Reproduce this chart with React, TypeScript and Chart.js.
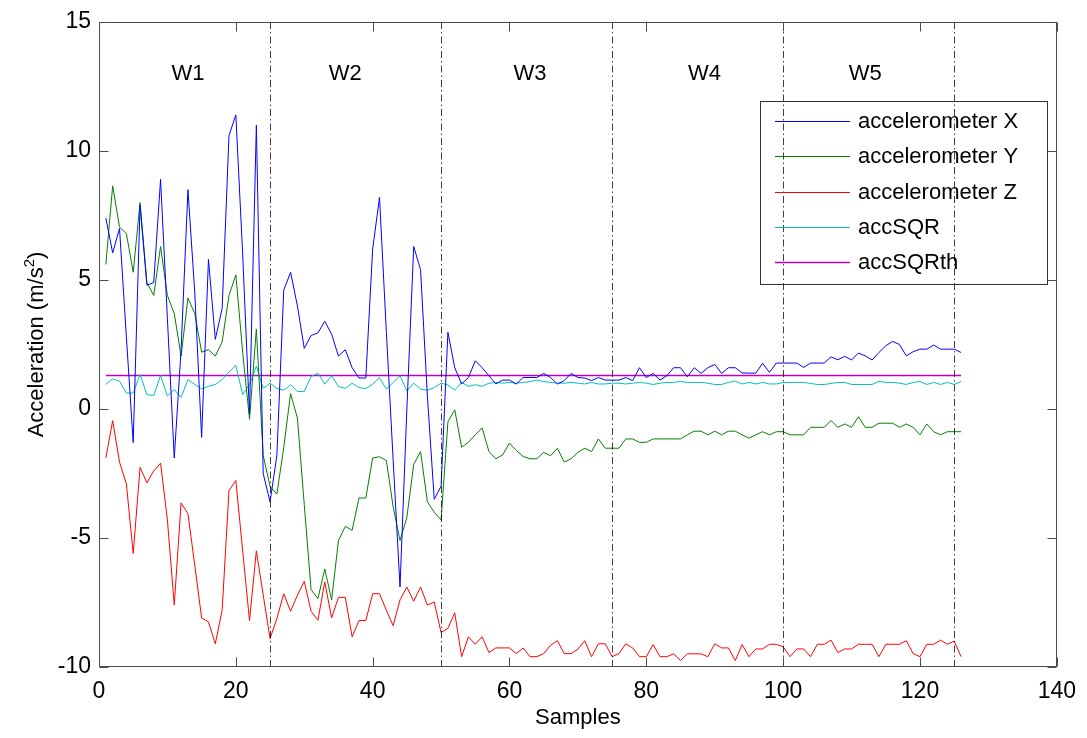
import React, { useEffect, useRef } from "react";
import { Chart, registerables } from "chart.js";

Chart.register(...registerables);

// ---------- data ----------
const sampleCount = 126;
const samples: number[] = Array.from({ length: sampleCount }, (_, i) => i + 1);

const accX: number[] = [
  7.4, 6.05, 7.0, 2.8, -1.3, 7.9, 4.8, 4.9, 8.9, 3.5,
  -1.9, 2.3, 8.5, 4.5, -1.1, 5.8, 2.7, 3.9, 10.6, 11.4,
  6.0, -0.2, 11.0, -2.5, -3.6, -1.8, 4.6, 5.3, 4.0, 2.35,
  2.85, 2.95, 3.4, 2.9, 2.05, 2.3, 1.6, 1.2, 1.2, 6.2,
  8.2, 3.0, -2.0, -6.9, 0.0, 6.3, 5.4, 0.5, -3.5, -3.0,
  2.97, 1.6, 0.97, 1.22, 1.87, 1.6, 1.29, 0.97, 1.12, 1.12,
  0.97, 1.22, 1.22, 1.22, 1.38, 1.22, 0.97, 1.1, 1.38, 1.22,
  1.2, 1.1, 1.22, 1.12, 1.12, 1.12, 1.22, 1.1, 1.6, 1.22,
  1.38, 1.12, 1.29, 1.6, 1.6, 1.25, 1.6, 1.38, 1.6, 1.73,
  1.38, 1.6, 1.6, 1.4, 1.39, 1.39, 1.77, 1.42, 1.78, 1.78,
  1.78, 1.78, 1.61, 1.78, 1.78, 1.78, 2.02, 1.91, 2.04, 1.9,
  2.17, 2.06, 1.9, 2.19, 2.45, 2.62, 2.5, 2.06, 2.22, 2.32,
  2.32, 2.48, 2.32, 2.32, 2.32, 2.19,
];

const accY: number[] = [
  5.6, 8.65, 7.05, 6.8, 5.3, 8.0, 4.9, 4.4, 6.3, 4.4,
  3.7, 2.05, 4.3, 3.7, 2.2, 2.3, 2.05, 2.6, 4.4, 5.2,
  2.2, -0.4, 3.1, -1.8, -3.0, -3.3, -1.5, 0.6, -0.35, -3.7,
  -7.0, -7.35, -6.2, -7.4, -5.1, -4.55, -4.7, -3.45, -3.45, -1.9,
  -1.85, -2.0, -3.8, -5.1, -4.2, -2.15, -1.65, -3.6, -4.0, -4.3,
  -0.5, -0.03, -1.48, -1.29, -1.0, -0.73, -1.65, -1.93, -1.78, -1.32,
  -1.61, -1.84, -1.93, -1.93, -1.68, -1.81, -1.52, -2.06, -1.93, -1.68,
  -1.52, -1.65, -1.16, -1.52, -1.52, -1.52, -1.16, -1.16, -1.29, -1.29,
  -1.16, -1.16, -1.16, -1.16, -1.16, -1.0, -0.86, -0.86, -1.0, -0.86,
  -1.0, -0.86, -0.86, -1.0, -1.13, -1.0, -0.88, -1.0, -0.88, -0.88,
  -1.0, -1.0, -1.0, -0.71, -0.71, -0.71, -0.45, -0.71, -0.58, -0.71,
  -0.3, -0.71, -0.71, -0.55, -0.55, -0.55, -0.71, -0.58, -0.71, -1.0,
  -0.58, -0.88, -1.0, -0.88, -0.88, -0.88,
];

const accZ: number[] = [
  -1.9, -0.45, -2.06, -2.9, -5.6, -2.26, -2.86, -2.4, -2.1, -4.3,
  -7.6, -3.64, -4.06, -6.06, -8.1, -8.25, -9.1, -7.8, -3.16, -2.77,
  -5.5, -8.2, -5.5, -7.2, -8.9, -8.12, -7.16, -7.84, -7.22, -6.68,
  -7.84, -8.19, -6.7, -8.1, -7.3, -7.3, -8.83, -8.2, -8.2, -7.16,
  -7.16, -7.8, -8.4, -7.4, -6.9, -7.45, -6.9, -7.6, -7.48, -8.66,
  -8.5, -7.9, -9.6, -8.83, -9.12, -8.83, -9.44, -9.26, -9.26, -9.26,
  -9.48, -9.26, -9.6, -9.6, -9.48, -9.16, -8.98, -9.48, -9.48, -9.31,
  -8.98, -9.6, -9.1, -9.1, -9.6, -9.48, -9.1, -9.26, -9.6, -9.6,
  -9.13, -9.6, -9.6, -9.49, -9.75, -9.49, -9.49, -9.49, -9.6, -9.1,
  -9.26, -9.26, -9.75, -9.13, -9.6, -9.3, -9.3, -9.12, -9.12, -9.22,
  -9.6, -9.3, -9.3, -9.6, -9.12, -9.12, -8.96, -9.44, -9.3, -9.3,
  -9.12, -9.12, -9.12, -9.6, -9.12, -9.12, -9.12, -8.98, -9.48, -9.6,
  -9.12, -9.12, -8.96, -9.12, -9.0, -9.6,
];

const accSQR: number[] = [
  0.95, 1.17, 1.08, 0.62, 0.62, 1.34, 0.56, 0.52, 1.3, 0.5,
  0.75, 0.45, 1.14, 0.95, 0.78, 0.88, 0.95, 1.14, 1.43, 1.69,
  0.56, 0.95, 1.66, 0.8, 1.0, 0.8, 0.73, 0.94, 0.68, 0.68,
  1.26, 1.39, 0.96, 1.29, 0.87, 0.8, 1.0, 0.83, 0.79, 0.96,
  1.22, 0.77, 1.03, 1.29, 0.7, 1.0, 0.77, 0.73, 0.83, 1.0,
  0.93, 0.73, 1.03, 0.88, 0.94, 0.88, 1.0, 1.03, 1.0, 1.03,
  1.0, 1.03, 1.06, 1.12, 1.06, 1.03, 1.0, 1.0, 1.03, 1.0,
  0.97, 1.03, 0.97, 0.97, 1.0, 1.0, 0.97, 1.0, 1.03, 1.0,
  0.95, 1.0, 1.03, 1.03, 1.07, 1.03, 1.03, 1.03, 1.0, 0.95,
  0.95, 1.03, 1.08, 0.97, 1.03, 0.97, 1.03, 0.97, 0.97, 1.03,
  1.03, 1.03, 1.03, 0.99, 0.95, 0.95, 0.99, 1.03, 1.03, 0.95,
  0.95, 0.95, 0.95, 1.07, 1.03, 1.03, 1.0, 0.95, 1.03, 1.07,
  0.95, 1.03, 0.95, 1.03, 0.95, 1.07,
];

const accSQRthValue = 1.3;
const thresholdRange: number[] = [1, 126];

const seriesNames: string[] = [
  "accelerometer X",
  "accelerometer Y",
  "accelerometer Z",
  "accSQR",
  "accSQRth",
];
const seriesColors: string[] = [
  "rgb(0,0,255)",
  "rgb(0,128,0)",
  "rgb(255,0,0)",
  "rgb(0,191,191)",
  "rgb(191,0,191)",
];
const seriesWidths: number[] = [1, 1, 1, 1, 1.6];

const windowBounds: number[] = [25, 50, 75, 100, 125];
const windowLabels: string[] = ["W1", "W2", "W3", "W4", "W5"];
const windowLabelX: number[] = [13, 36, 63, 88.5, 112];
const windowLabelY = 13;

const xTicks: number[] = [0, 20, 40, 60, 80, 100, 120, 140];
const yTicks: number[] = [-10, -5, 0, 5, 10, 15];
const xTitle = "Samples";
const yTitle = "Acceleration (m/s";
const yTitleSup = "2";
const yTitleEnd = ")";

const FONT = "'Liberation Sans', Arial, sans-serif";

const toPoints = (vals: number[]) => samples.map((s, i) => ({ x: s, y: vals[i] }));

const matlabPlugin = {
  id: "matlabDecor",
  afterDatasetsDraw(chart: any) {
    const { ctx, chartArea, scales } = chart;
    const xs = scales.x;
    ctx.save();
    ctx.strokeStyle = "rgba(0,0,0,0.75)";
    ctx.lineWidth = 1;
    ctx.setLineDash([7, 3, 1.5, 3]);
    windowBounds.forEach((b) => {
      const px = Math.round(xs.getPixelForValue(b)) + 0.5;
      ctx.beginPath();
      ctx.moveTo(px, chartArea.top);
      ctx.lineTo(px, chartArea.bottom);
      ctx.stroke();
    });
    ctx.restore();
  },
  afterDraw(chart: any) {
    const { ctx, chartArea, scales } = chart;
    const xs = scales.x;
    const ys = scales.y;
    const L = Math.round(chartArea.left) + 0.5;
    const R = Math.round(chartArea.right) - 0.5;
    const T = Math.round(chartArea.top) + 0.5;
    const B = Math.round(chartArea.bottom) - 0.5;
    ctx.save();
    // box
    ctx.strokeStyle = "#4d4d4d";
    ctx.lineWidth = 1;
    ctx.strokeRect(L, T, R - L, B - T);
    // ticks inward
    const tl = 9;
    ctx.beginPath();
    xTicks.forEach((v) => {
      const px = Math.round(xs.getPixelForValue(v)) + 0.5;
      ctx.moveTo(px, B);
      ctx.lineTo(px, B - tl);
      ctx.moveTo(px, T);
      ctx.lineTo(px, T + tl);
    });
    yTicks.forEach((v) => {
      const py = Math.round(ys.getPixelForValue(v)) + 0.5;
      ctx.moveTo(L, py);
      ctx.lineTo(L + tl, py);
      ctx.moveTo(R, py);
      ctx.lineTo(R - tl, py);
    });
    ctx.stroke();

    // window labels
    ctx.fillStyle = "#000";
    ctx.font = `22px ${FONT}`;
    ctx.textAlign = "center";
    ctx.textBaseline = "middle";
    windowLabels.forEach((lab, i) => {
      ctx.fillText(lab, xs.getPixelForValue(windowLabelX[i]), ys.getPixelForValue(windowLabelY));
    });

    // axis titles
    ctx.font = `22px ${FONT}`;
    ctx.textAlign = "center";
    ctx.textBaseline = "middle";
    ctx.fillText(xTitle, (chartArea.left + chartArea.right) / 2, 718);

    ctx.save();
    ctx.translate(35, (chartArea.top + chartArea.bottom) / 2);
    ctx.rotate(-Math.PI / 2);
    ctx.font = `22px ${FONT}`;
    const w1 = ctx.measureText(yTitle).width;
    ctx.font = `15px ${FONT}`;
    const w2 = ctx.measureText(yTitleSup).width;
    ctx.font = `22px ${FONT}`;
    const w3 = ctx.measureText(yTitleEnd).width;
    const total = w1 + w2 + w3;
    let x0 = -total / 2;
    ctx.textAlign = "left";
    ctx.textBaseline = "alphabetic";
    ctx.fillText(yTitle, x0, 8);
    x0 += w1;
    ctx.font = `15px ${FONT}`;
    ctx.fillText(yTitleSup, x0, -1);
    x0 += w2;
    ctx.font = `22px ${FONT}`;
    ctx.fillText(yTitleEnd, x0, 8);
    ctx.restore();

    // legend
    const lx = 760.5, ly = 101.5, lw = 287, lh = 183;
    ctx.strokeStyle = "#333";
    ctx.setLineDash([]);
    ctx.strokeRect(lx, ly, lw, lh);
    ctx.font = `22px ${FONT}`;
    ctx.textAlign = "left";
    ctx.textBaseline = "middle";
    seriesNames.forEach((name, i) => {
      const y = 121 + i * 35.3;
      ctx.strokeStyle = seriesColors[i];
      ctx.lineWidth = seriesWidths[i];
      ctx.beginPath();
      ctx.moveTo(775, Math.round(y) + 0.5);
      ctx.lineTo(850, Math.round(y) + 0.5);
      ctx.stroke();
      ctx.fillStyle = "#000";
      ctx.fillText(name, 858, y + 1);
    });
    ctx.restore();
  },
};

export default function App() {
  const canvasRef = useRef<HTMLCanvasElement | null>(null);

  useEffect(() => {
    const canvas = canvasRef.current;
    if (!canvas) return;
    const seriesVals = [accX, accY, accZ, accSQR];
    const datasets: any[] = seriesVals.map((vals, i) => ({
      label: seriesNames[i],
      data: toPoints(vals),
      borderColor: seriesColors[i],
      borderWidth: seriesWidths[i],
      pointRadius: 0,
      tension: 0,
      fill: false,
    }));
    datasets.push({
      label: seriesNames[4],
      data: thresholdRange.map((x) => ({ x, y: accSQRthValue })),
      borderColor: seriesColors[4],
      borderWidth: seriesWidths[4],
      pointRadius: 0,
      tension: 0,
      fill: false,
    });

    const chart = new Chart(canvas, {
      type: "line",
      data: { datasets },
      options: {
        animation: false,
        responsive: false,
        devicePixelRatio: 1,
        layout: { padding: { left: 0, top: 22, right: 29, bottom: 0 } },
        plugins: {
          legend: { display: false },
          tooltip: { enabled: false },
          title: { display: false },
        },
        scales: {
          x: {
            type: "linear",
            min: 0,
            max: 140,
            afterBuildTicks: (s: any) => {
              s.ticks = xTicks.map((v) => ({ value: v }));
            },
            afterFit: (s: any) => {
              s.height = 71;
            },
            grid: { display: false, drawTicks: false },
            border: { display: false },
            ticks: {
              padding: 11,
              color: "#000",
              font: { family: FONT, size: 23 },
              maxRotation: 0,
              autoSkip: false,
            },
          },
          y: {
            type: "linear",
            min: -10,
            max: 15,
            afterBuildTicks: (s: any) => {
              s.ticks = yTicks.map((v) => ({ value: v }));
            },
            afterFit: (s: any) => {
              s.width = 99;
            },
            grid: { display: false, drawTicks: false },
            border: { display: false },
            ticks: {
              padding: 8,
              color: "#000",
              font: { family: FONT, size: 23 },
              autoSkip: false,
            },
          },
        },
      },
      plugins: [matlabPlugin],
    });
    return () => chart.destroy();
  }, []);

  return (
    <div style={{ position: "fixed", left: 0, top: 0, width: 1087, height: 738, background: "#fff" }}>
      <canvas ref={canvasRef} width={1087} height={738} style={{ width: 1087, height: 738, display: "block" }} />
    </div>
  );
}
